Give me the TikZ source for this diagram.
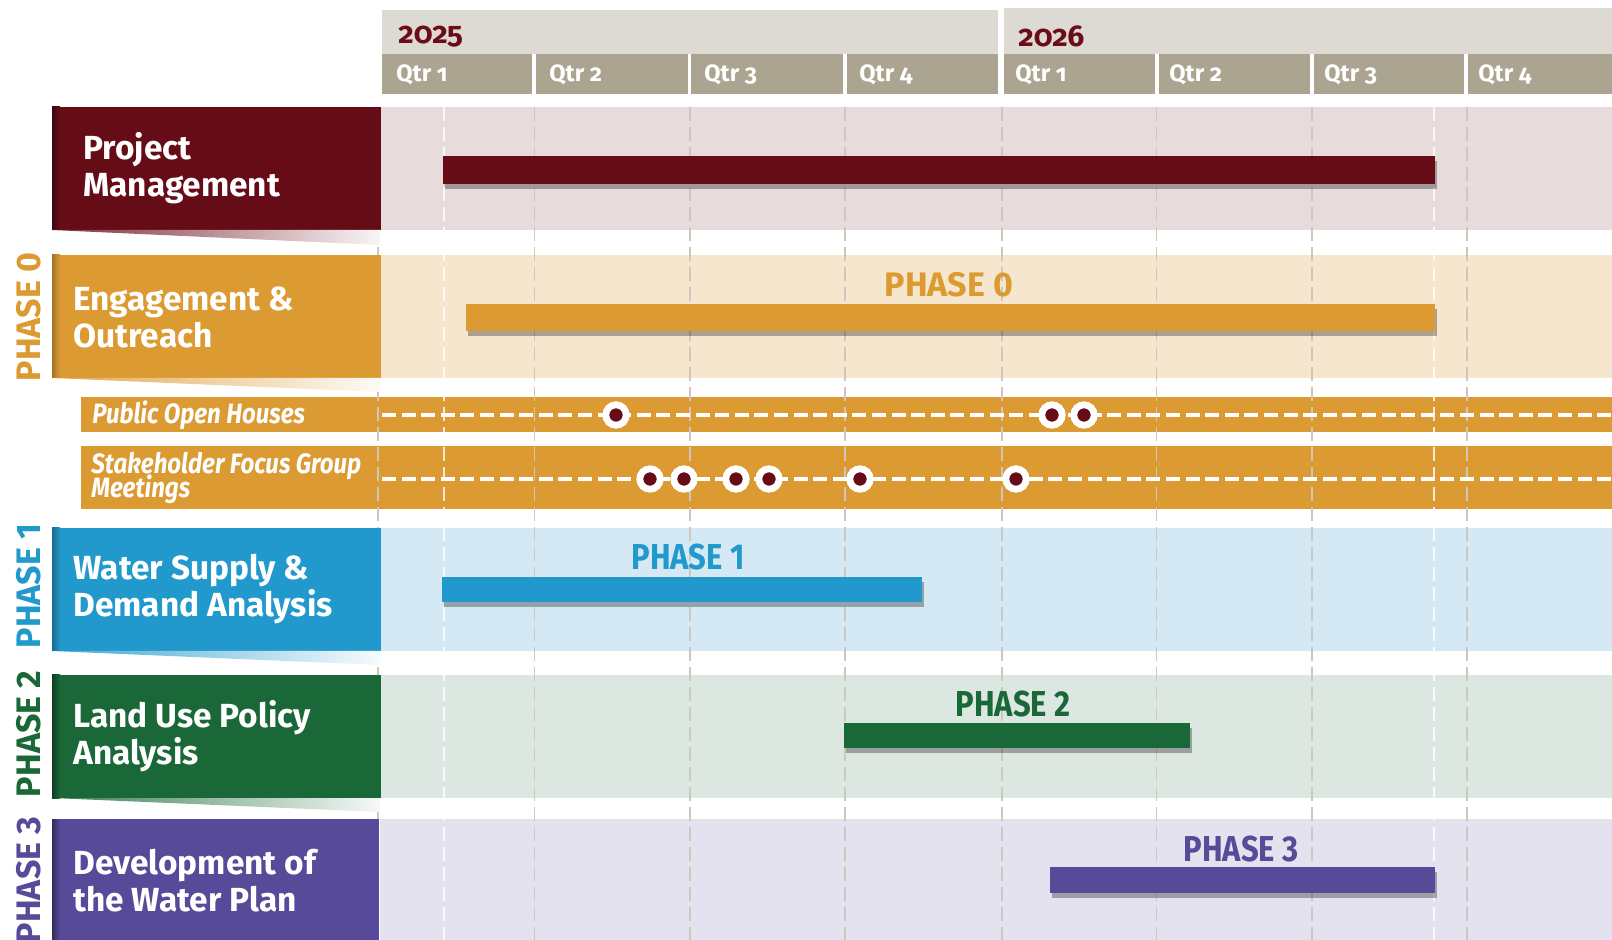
\documentclass[tikz,border=0pt]{standalone}
\usepackage{fontspec}
\setmainfont{Fira Sans}[Numbers=OldStyle]
\newfontfamily\liningfont{Fira Sans}[Numbers=Lining]
\newfontfamily\narrowfont{Fira Sans}[Numbers=Lining,FakeStretch=0.86]
\newcommand\tightskip{\setlength{\lineskiplimit}{-20pt}}
\usetikzlibrary{shadows}

\definecolor{headlight}{HTML}{DDDAD3}
\definecolor{headdark}{HTML}{ABA491}
\definecolor{yearred}{HTML}{6B0D19}
\definecolor{pmred}{HTML}{650C16}
\definecolor{pmband}{HTML}{E8DBDC}
\definecolor{eoorange}{HTML}{DC9A33}
\definecolor{eoband}{HTML}{F6E6CD}
\definecolor{wsblue}{HTML}{2299CC}
\definecolor{wsband}{HTML}{D4E9F4}
\definecolor{lugreen}{HTML}{1A6838}
\definecolor{luband}{HTML}{DDE7E1}
\definecolor{dvpurple}{HTML}{574A99}
\definecolor{dvband}{HTML}{E4E2EE}
\definecolor{gridgray}{HTML}{CCC7BF}

\begin{document}
\begin{tikzpicture}[x=0.5pt, y=-0.5pt,
    yearlabel/.style={anchor=west, text=yearred, inner sep=0, font=\fontsize{15}{15}\selectfont\bfseries},
    qtrlabel/.style={anchor=west, text=white, inner sep=0, font=\fontsize{11.8}{12}\selectfont\bfseries},
    tasklabel/.style={anchor=west, text=white, align=left, inner sep=0, font=\fontsize{16.7}{18.5}\selectfont\bfseries},
    sublabel/.style={anchor=west, text=white, align=left, inner sep=0, font=\narrowfont\fontsize{14}{12.2}\selectfont\bfseries\itshape\tightskip},
    sidephase/.style={rotate=90, inner sep=0, font=\liningfont\fontsize{17}{17}\selectfont\bfseries},
    barphase/.style={inner sep=0, font=\narrowfont\fontsize{18}{18}\selectfont\bfseries},
    gridline/.style={gridgray, line width=0.75pt, dash pattern=on 7pt off 3pt},
    startline/.style={white, opacity=.8, line width=0.75pt, dash pattern=on 7pt off 3pt},
    eventline/.style={white, line width=1.75pt, dash pattern=on 7pt off 2.8pt},
    milestone/.style={circle, draw=white, fill=pmred, line width=3.4pt, minimum size=10.2pt, inner sep=0},
    taskbar/.style={drop shadow={shadow xshift=1pt, shadow yshift=-2.5pt, opacity=.3, fill=black}}]
    \useasboundingbox (0,0) rectangle (1612,940);

    % header
    \fill[headlight] (382,10) rectangle (998,54);
    \fill[headlight] (1004,8) rectangle (1612,54);
    \fill[headdark] (382,54) rectangle (532,94);
    \fill[headdark] (535.5,54) rectangle (687.5,94);
    \fill[headdark] (690.5,54) rectangle (843,94);
    \fill[headdark] (846.5,54) rectangle (998,94);
    \fill[headdark] (1004,54) rectangle (1154.5,94);
    \fill[headdark] (1158.5,54) rectangle (1310,94);
    \fill[headdark] (1313.5,54) rectangle (1464,94);
    \fill[headdark] (1468,54) rectangle (1612,94);
    \node (y25) at (398,37) [yearlabel] {2025};
    \node (y26) at (1018,36) [yearlabel] {2026};
    \node (q1a) at (396,75) [qtrlabel] {Qtr 1};
    \node (q2a) at (549,75) [qtrlabel] {Qtr 2};
    \node (q3a) at (704,75) [qtrlabel] {Qtr 3};
    \node (q4a) at (859,75) [qtrlabel] {Qtr 4};
    \node (q1b) at (1015,75) [qtrlabel] {Qtr 1};
    \node (q2b) at (1169,75) [qtrlabel] {Qtr 2};
    \node (q3b) at (1324,75) [qtrlabel] {Qtr 3};
    \node (q4b) at (1478,75) [qtrlabel] {Qtr 4};

    % row bands
    \fill[pmband] (380,107) rectangle (1612,230);
    \fill[eoband] (380,255) rectangle (1612,378);
    \fill[eoorange] (81,397) rectangle (1612,432);
    \fill[eoorange] (81,446) rectangle (1612,509);
    \fill[wsband] (380,528) rectangle (1612,651);
    \fill[luband] (380,675) rectangle (1612,798);
    \fill[dvband] (380,819) rectangle (1612,940);

    % quarter lines
    \draw[gridline] (378,107) -- (378,940);
    \draw[gridline] (534.5,107) -- (534.5,940);
    \draw[gridline] (690,107) -- (690,940);
    \draw[gridline] (845,107) -- (845,940);
    \draw[gridline] (1002,107) -- (1002,940);
    \draw[gridline] (1156.5,107) -- (1156.5,940);
    \draw[gridline] (1312,107) -- (1312,940);
    \draw[gridline] (1467,107) -- (1467,940);
    \draw[startline] (444,107) -- (444,940);
    \draw[startline] (1434,107) -- (1434,940);

    % event lines
    \coordinate (poh-start) at (382,415);
    \coordinate (poh-end) at (1612,415);
    \coordinate (sfg-start) at (382,479);
    \coordinate (sfg-end) at (1612,479);
    \draw[eventline] (poh-start) -- (poh-end);
    \draw[eventline] (sfg-start) -- (sfg-end);

    % task blocks
    \fill[pmred] (52,107) rectangle (380.5,230);
    \shade[left color=pmred!60!black, right color=pmred] (52,107) rectangle (60,230);
    \shade[left color=pmred!85, right color=pmred!4] (52,230) -- (380,230) -- (380,245) -- cycle;
    \fill[eoorange] (52,255) rectangle (380.5,378);
    \shade[left color=eoorange!75!black, right color=eoorange] (52,255) rectangle (60,378);
    \shade[left color=eoorange!85, right color=eoorange!4] (52,378) -- (380,378) -- (380,392) -- cycle;
    \fill[wsblue] (52,528) rectangle (380.5,651);
    \shade[left color=wsblue!70!black, right color=wsblue] (52,528) rectangle (60,651);
    \shade[left color=wsblue!85, right color=wsblue!4] (52,651) -- (380,651) -- (380,665) -- cycle;
    \fill[lugreen] (52,675) rectangle (380.5,798);
    \shade[left color=lugreen!60!black, right color=lugreen] (52,675) rectangle (60,798);
    \shade[left color=lugreen!85, right color=lugreen!4] (52,798) -- (380,798) -- (380,812) -- cycle;
    \fill[dvpurple] (52,819) rectangle (379,940);
    \shade[left color=dvpurple!60!black, right color=dvpurple] (52,819) rectangle (60,940);

    % bars
    \fill[pmred, taskbar] (443,156) rectangle (1435,184);
    \fill[eoorange, taskbar] (466,304) rectangle (1435,331);
    \fill[wsblue, taskbar] (442,577) rectangle (922,602);
    \fill[lugreen, taskbar] (844,723) rectangle (1190,748);
    \fill[dvpurple, taskbar] (1050,867) rectangle (1435,893);

    % milestones
    \node (poh1) at (616,415) [milestone] {};
    \node (poh2) at (1052,415) [milestone] {};
    \node (poh3) at (1084,415) [milestone] {};
    \node (sfg1) at (650,479) [milestone] {};
    \node (sfg2) at (684,479) [milestone] {};
    \node (sfg3) at (736,479) [milestone] {};
    \node (sfg4) at (769,479) [milestone] {};
    \node (sfg5) at (860,479) [milestone] {};
    \node (sfg6) at (1016,479) [milestone] {};

    % labels
    \node (pm) at (83,168) [tasklabel] {Project\\Management};
    \node (eo) at (73,317) [tasklabel] {Engagement \&\\Outreach};
    \node (poh) at (92,415) [sublabel] {Public Open Houses};
    \node (sfg) at (91,478) [sublabel] {Stakeholder Focus Group\\Meetings};
    \node (ws) at (73,589) [tasklabel] {Water Supply \&\\Demand Analysis};
    \node (lu) at (73,736) [tasklabel] {Land Use Policy\\Analysis};
    \node (dv) at (73,881) [tasklabel] {Development of\\the Water Plan};

    \node (side0) at (29,317) [sidephase, text=eoorange] {PHASE 0};
    \node (side1) at (29,586) [sidephase, text=wsblue] {PHASE 1};
    \node (side2) at (29,734) [sidephase, text=lugreen] {PHASE 2};
    \node (side3) at (29,880) [sidephase, text=dvpurple] {PHASE 3};

    \node (ph0) at (949,285) [barphase, font=\liningfont\fontsize{17}{17}\selectfont\bfseries, text=eoorange] {PHASE 0};
    \node (ph1) at (688,557) [barphase, text=wsblue] {PHASE 1};
    \node (ph2) at (1013,704) [barphase, text=lugreen] {PHASE 2};
    \node (ph3) at (1241,849) [barphase, text=dvpurple] {PHASE 3};
\end{tikzpicture}
\end{document}
